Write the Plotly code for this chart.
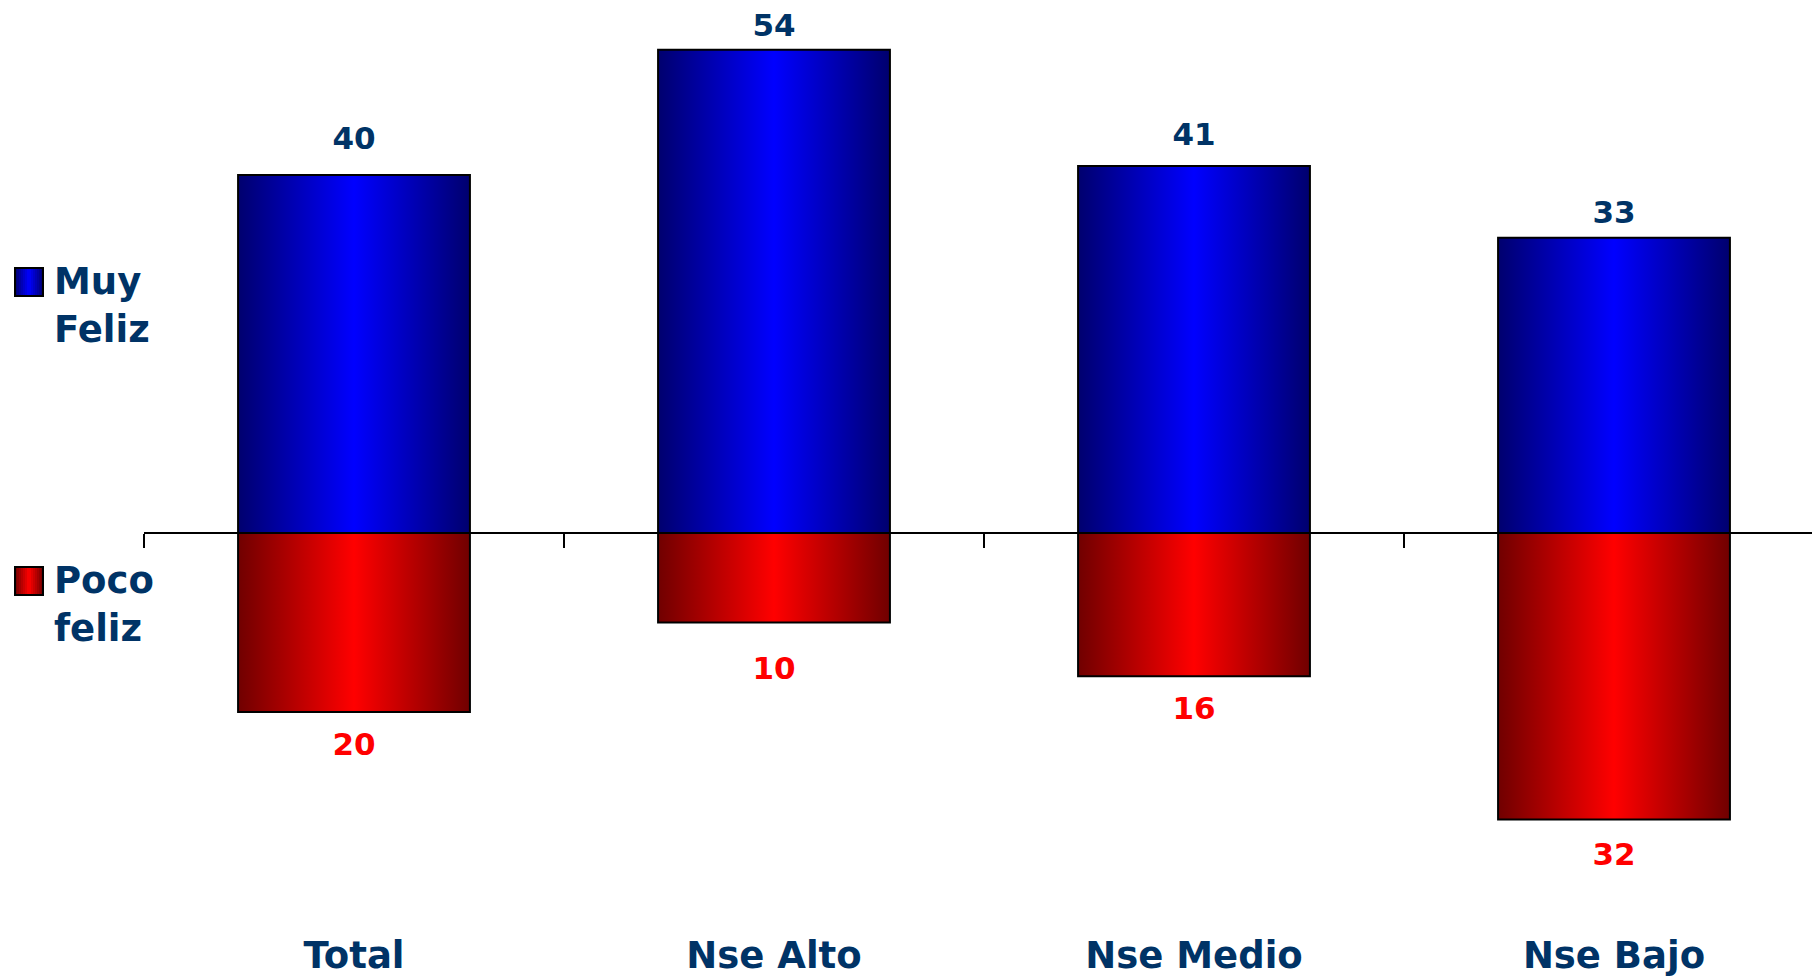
import plotly.graph_objects as go

categories = ["Total", "Nse Alto", "Nse Medio", "Nse Bajo"]
muy_feliz = [40, 54, 41, 33]
poco_feliz = [-20, -10, -16, -32]
series_names = ["Muy<br>Feliz", "Poco<br>feliz"]

OFF = 8  # page body margin
W, H = 1820 - OFF, 980 - OFF
ML, MR, MT, MB = 144 - OFF, 0, 0, 50
PX_PER_UNIT = 8.95
ZERO_PX = 533 - OFF
plot_h = H - MT - MB
plot_w = W - ML - MR
ymax = (ZERO_PX - MT) / PX_PER_UNIT
ymin = -(MT + plot_h - ZERO_PX) / PX_PER_UNIT
xmin = -0.5
xmax = xmin + plot_w / 420.0
bar_w = 0.552

# label offsets (invisible marker sizes push the text away from the bar end)
top_gap = [28, 8, 20, 9]
bottom_gap = [30, 52, 30, 34]

TEXT = "#003366"
FONT = "DejaVu Sans"
blue_scale = [[0, "#00006e"], [0.5, "#0000ff"], [1, "#00006e"]]
red_scale = [[0, "#700000"], [0.5, "#ff0000"], [1, "#700000"]]

fig = go.Figure()

def add_bars(values, scale):
    for i, v in enumerate(values):
        x0, x1 = i - bar_w / 2, i + bar_w / 2
        fig.add_trace(go.Scatter(
            x=[x0, x0, x1, x1, x0], y=[0, v, v, 0, 0],
            mode="lines", fill="toself",
            fillgradient=dict(type="horizontal", colorscale=scale),
            line=dict(color="black", width=2),
            hoverinfo="skip", showlegend=False,
        ))

add_bars(muy_feliz, blue_scale)
add_bars(poco_feliz, red_scale)

xs = list(range(len(categories)))
fig.add_trace(go.Scatter(
    x=xs, y=muy_feliz, xaxis="x2", mode="markers+text",
    text=[str(v) for v in muy_feliz], textposition="top center",
    marker=dict(size=top_gap, opacity=0),
    textfont=dict(family=FONT, size=31, color=TEXT, weight="bold"),
    cliponaxis=False, showlegend=False, hoverinfo="skip",
))
fig.add_trace(go.Scatter(
    x=xs, y=poco_feliz, xaxis="x2", mode="markers+text",
    text=[str(-v) for v in poco_feliz], textposition="bottom center",
    marker=dict(size=bottom_gap, opacity=0),
    textfont=dict(family=FONT, size=31, color="#ff0000", weight="bold"),
    cliponaxis=False, showlegend=False, hoverinfo="skip",
))

zero_pos = (0 - ymin) / (ymax - ymin)

def px_to_paper_x(px):
    return (px - OFF - ML) / plot_w

def px_to_paper_y(py):
    return (MT + plot_h - (py - OFF)) / plot_h

def lerp_hex(c1, c2, t):
    a = [int(c1[i:i + 2], 16) for i in (1, 3, 5)]
    b = [int(c2[i:i + 2], 16) for i in (1, 3, 5)]
    return "#" + "".join(f"{round(a[k] + (b[k] - a[k]) * t):02x}" for k in range(3))

# manual legend (reference pixel positions)
legend_items = [
    (series_names[0], "#00006e", "#0000ff", 268, 305),
    (series_names[1], "#700000", "#ff0000", 567, 604),
]
shapes = []
annotations = []
SQ_X0, SQ_X1, SQ = 15, 43, 28
NSTRIP = 14
for name, dark, bright, sq_top, txt_mid in legend_items:
    sw = (SQ_X1 - SQ_X0) / NSTRIP
    for k in range(NSTRIP):
        t = 1 - abs((k + 0.5) / NSTRIP - 0.5) * 2
        shapes.append(dict(
            type="rect", xref="paper", yref="paper",
            x0=px_to_paper_x(SQ_X0 + k * sw), x1=px_to_paper_x(SQ_X0 + (k + 1) * sw),
            y0=px_to_paper_y(sq_top + SQ), y1=px_to_paper_y(sq_top),
            fillcolor=lerp_hex(dark, bright, t), line=dict(width=0),
        ))
    shapes.append(dict(
        type="rect", xref="paper", yref="paper",
        x0=px_to_paper_x(SQ_X0), x1=px_to_paper_x(SQ_X1),
        y0=px_to_paper_y(sq_top + SQ), y1=px_to_paper_y(sq_top),
        fillcolor="rgba(0,0,0,0)", line=dict(color="black", width=2),
    ))
    annotations.append(dict(
        text=name, xref="paper", yref="paper",
        x=px_to_paper_x(52), y=px_to_paper_y(txt_mid),
        xanchor="left", yanchor="middle", align="left", showarrow=False,
        font=dict(family=FONT, size=37, color=TEXT, weight="bold"),
    ))

fig.update_layout(
    width=W, height=H,
    margin=dict(l=ML, r=MR, t=MT, b=MB, pad=0),
    paper_bgcolor="white", plot_bgcolor="white",
    showlegend=False,
    xaxis=dict(
        range=[xmin, xmax], tickvals=xs, ticktext=categories,
        showline=False, ticks="", showgrid=False, zeroline=False,
        tickfont=dict(family=FONT, size=37, color=TEXT, weight="bold"),
        fixedrange=True,
    ),
    xaxis2=dict(
        overlaying="x", anchor="free", position=zero_pos, side="bottom",
        range=[xmin, xmax], tickvals=[i - 0.5 for i in xs],
        ticks="outside", ticklen=14, tickwidth=2, tickcolor="black",
        showline=True, linecolor="black", linewidth=2,
        showticklabels=False, showgrid=False, zeroline=False,
    ),
    yaxis=dict(range=[ymin, ymax], visible=False, showgrid=False, zeroline=False),
    shapes=shapes,
    annotations=annotations,
)

fig.write_html("out.html")
